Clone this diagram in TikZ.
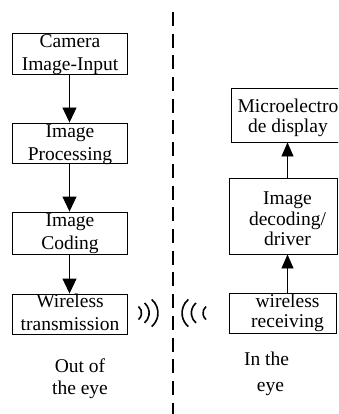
\documentclass[tikz,border=0pt]{standalone}
\usepackage{fontspec}
\setmainfont{Liberation Serif}
\usetikzlibrary{arrows.meta}
\begin{document}
\begin{tikzpicture}[x=1pt,y=-1pt,
  box/.style={draw, line width=0.9pt, inner sep=0pt, rectangle},
  txt/.style={inner sep=0pt, align=center, font=\fontsize{19.5}{23}\selectfont},
  txtr/.style={inner sep=0pt, align=center, font=\fontsize{19.5}{20.5}\selectfont},
  arr/.style={line width=0.9pt, -{Triangle[length=15pt,width=14pt]}},
  arrr/.style={line width=0.9pt, -{Triangle[length=14pt,width=12pt]}},
  wave/.style={line width=1.6pt},
  sep/.style={line width=2pt, dash pattern=on 14pt off 7.7pt}
]
\clip (0,0) rectangle (338,414);
\fill[white] (0,0) rectangle (338,414);

% separator
\coordinate (dtop) at (172.5,12);
\coordinate (dbot) at (172.5,420);
\draw[sep] (dtop) -- (dbot);

% left column
\node[box, minimum width=115pt, minimum height=41pt] (cam) at (69.5,53.5) {};
\node[txt] (camt) at (70,55) {Camera\\Image-Input};
\node[box, minimum width=115pt, minimum height=40pt] (proc) at (69.5,143) {};
\node[txt] (proct) at (70,144.5) {Image\\Processing};
\node[box, minimum width=115pt, minimum height=42pt] (cod) at (69.5,233) {};
\node[txt] (codt) at (70,234) {Image\\Coding};
\node[box, minimum width=115pt, minimum height=40pt] (tx) at (69.5,314) {};
\node[txt] (txt1) at (70,311.9) {Wireless\\transmission};

\draw[arr] (cam.south) -- (proc.north);
\draw[arr] (proc.south) -- (cod.north);
\draw[arr] (cod.south) -- (tx.north);

% right column
\node[box, minimum width=119pt, minimum height=54pt] (mic) at (290.5,115) {};
\node[txtr] (mict) at (288,117.8) {Microelectro\\de display};
\node[box, minimum width=108pt, minimum height=76pt] (dec) at (283,216) {};
\node[txtr] (dect) at (287.5,218.9) {Image\\decoding/\\driver};
\node[box, minimum width=107pt, minimum height=40pt] (recv) at (282.5,313) {};
\node[txtr] (recvt) at (287.5,312.7) {wireless\\receiving};

\draw[arrr] (dect |- recv.north) -- (dect |- dec.south);
\draw[arrr] (dect |- dec.north) -- (dect |- mic.south);

% waves
\draw[wave] (138.5,306.5) arc[start angle=-50, end angle=50, radius=8.5];
\draw[wave] (144.5,303) arc[start angle=-50, end angle=50, radius=13];
\draw[wave] (151.7,299.5) arc[start angle=-50, end angle=50, radius=17.6];
\draw[wave] (188.3,299.5) arc[start angle=230, end angle=130, radius=17.6];
\draw[wave] (196,303) arc[start angle=230, end angle=130, radius=13];
\draw[wave] (206,306.5) arc[start angle=230, end angle=130, radius=8.5];

% captions
\node[inner sep=0pt, align=center, font=\fontsize{19.5}{22}\selectfont] (out) at (80,378.5) {Out of\\the eye};
\node[inner sep=0pt, align=center, font=\fontsize{19.5}{26}\selectfont] (in) at (266.5,373.5) {In the\\\hspace*{8pt}eye};
\end{tikzpicture}
\end{document}
